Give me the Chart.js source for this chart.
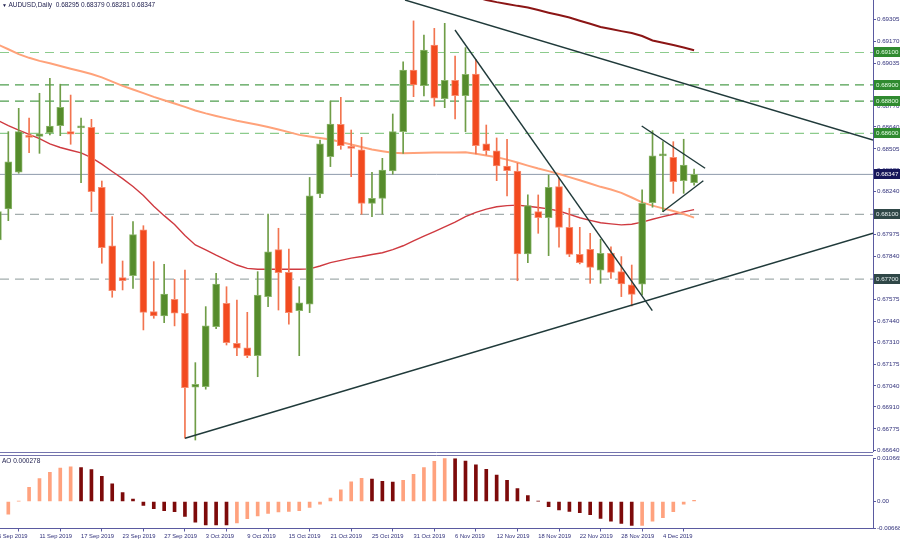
<!DOCTYPE html>
<html><head><meta charset="utf-8">
<script src="https://cdn.jsdelivr.net/npm/chart.js@4"></script>
<style>
html,body{margin:0;padding:0;background:#fff;width:900px;height:542px;overflow:hidden;}
#wrap{position:relative;width:900px;height:542px;}
#c1{position:absolute;left:0;top:0;}
#c2{position:absolute;left:0;top:452px;}
.lbl{position:absolute;font-family:"Liberation Sans",Arial,sans-serif;color:#1b1b4b;white-space:pre;line-height:1;}
</style></head>
<body><div id="wrap">
<canvas id="c1" width="900" height="452"></canvas>
<canvas id="c2" width="900" height="90"></canvas>
<div class="lbl" id="hdr" style="left:2px;top:2px;font-size:6.5px"></div>
<div class="lbl" id="aolbl" style="left:2px;top:458px;font-size:6.5px"></div>
</div>
<script>
// ---------- DATA ----------
const symbol = 'AUDUSD,Daily';
// bar 0 = 5 Sep 2019 ... bar 67 = 9 Dec 2019
const dateLabels = ['5 Sep 2019','11 Sep 2019','17 Sep 2019','23 Sep 2019','27 Sep 2019','3 Oct 2019','9 Oct 2019','15 Oct 2019','21 Oct 2019','25 Oct 2019','31 Oct 2019','6 Nov 2019','12 Nov 2019','18 Nov 2019','22 Nov 2019','28 Nov 2019','4 Dec 2019'];
const dateLabelStep = 4;

const opens  = [0.67942,0.68133,0.68360,0.68584,0.68582,0.68605,0.68648,0.68611,0.68634,0.68638,0.68267,0.67905,0.67709,0.67721,0.68005,0.67499,0.67472,0.67575,0.67489,0.67032,0.67036,0.67406,0.67551,0.67304,0.67275,0.67227,0.67592,0.67882,0.67742,0.67505,0.67545,0.68226,0.68456,0.68656,0.68518,0.68498,0.68168,0.68199,0.68368,0.68611,0.68992,0.68895,0.69146,0.68815,0.68928,0.68833,0.68967,0.68535,0.68492,0.68399,0.68368,0.67855,0.68117,0.68080,0.68271,0.68020,0.67853,0.67884,0.67756,0.67860,0.67746,0.67664,0.67668,0.68172,0.68461,0.68453,0.68308,0.68295];
const highs  = [0.68160,0.68611,0.68755,0.68694,0.68848,0.68941,0.68904,0.68837,0.68694,0.68687,0.68306,0.68086,0.67812,0.68055,0.68030,0.67808,0.67792,0.67698,0.67756,0.67184,0.67530,0.67736,0.67653,0.67571,0.67495,0.67746,0.68102,0.68014,0.67886,0.67653,0.68328,0.68559,0.68800,0.68823,0.68621,0.68576,0.68360,0.68446,0.68720,0.69043,0.69295,0.69208,0.69249,0.69280,0.69078,0.69130,0.69058,0.68652,0.68572,0.68564,0.68416,0.68220,0.68220,0.68343,0.68323,0.68138,0.68020,0.67983,0.67946,0.67900,0.67839,0.67787,0.68251,0.68617,0.68549,0.68549,0.68564,0.68379];
const lows   = [0.67910,0.68061,0.68354,0.68481,0.68477,0.68590,0.68586,0.68533,0.68296,0.68117,0.67798,0.67588,0.67633,0.67643,0.67386,0.67458,0.67431,0.67411,0.66717,0.66706,0.67020,0.67394,0.67293,0.67227,0.67215,0.67097,0.67530,0.67509,0.67421,0.67227,0.67493,0.68203,0.68395,0.68502,0.68333,0.68101,0.68086,0.68101,0.68348,0.68477,0.68827,0.68831,0.68769,0.68759,0.68689,0.68611,0.68473,0.68467,0.68308,0.68214,0.67690,0.67802,0.67983,0.67845,0.67897,0.67839,0.67794,0.67674,0.67674,0.67705,0.67592,0.67534,0.67602,0.68144,0.68117,0.68230,0.68230,0.68281];
const closes = [0.68117,0.68425,0.68611,0.68576,0.68597,0.68646,0.68761,0.68595,0.68638,0.68240,0.67894,0.67629,0.67690,0.67975,0.67495,0.67472,0.67608,0.67489,0.67029,0.67050,0.67412,0.67670,0.67307,0.67273,0.67227,0.67602,0.67868,0.67740,0.67493,0.67554,0.68214,0.68535,0.68658,0.68524,0.68508,0.68168,0.68199,0.68374,0.68611,0.68992,0.68899,0.69115,0.68817,0.68928,0.68833,0.68965,0.68524,0.68493,0.68399,0.68370,0.67855,0.68154,0.68080,0.68267,0.68020,0.67853,0.67802,0.67773,0.67860,0.67742,0.67670,0.67606,0.68168,0.68461,0.68473,0.68302,0.68405,0.68347];

const maOrange = [0.69149,0.69120,0.69090,0.69067,0.69048,0.69033,0.69017,0.69000,0.68984,0.68967,0.68946,0.68920,0.68894,0.68871,0.68849,0.68826,0.68805,0.68785,0.68764,0.68742,0.68724,0.68708,0.68693,0.68678,0.68666,0.68653,0.68640,0.68624,0.68608,0.68591,0.68581,0.68572,0.68562,0.68547,0.68532,0.68516,0.68501,0.68490,0.68480,0.68477,0.68479,0.68480,0.68482,0.68482,0.68482,0.68483,0.68474,0.68463,0.68453,0.68438,0.68420,0.68401,0.68383,0.68367,0.68349,0.68330,0.68311,0.68291,0.68270,0.68254,0.68233,0.68204,0.68174,0.68154,0.68137,0.68121,0.68102,0.68080];
const maRed = [0.68680,0.68648,0.68620,0.68594,0.68568,0.68535,0.68513,0.68496,0.68480,0.68451,0.68410,0.68365,0.68321,0.68272,0.68217,0.68150,0.68092,0.68037,0.67969,0.67911,0.67881,0.67848,0.67818,0.67787,0.67766,0.67761,0.67761,0.67761,0.67761,0.67761,0.67763,0.67781,0.67802,0.67816,0.67830,0.67840,0.67852,0.67863,0.67882,0.67906,0.67936,0.67965,0.67994,0.68023,0.68052,0.68086,0.68112,0.68132,0.68147,0.68154,0.68157,0.68150,0.68142,0.68134,0.68121,0.68100,0.68079,0.68063,0.68048,0.68041,0.68035,0.68039,0.68052,0.68070,0.68086,0.68101,0.68115,0.68129];
const maDarkFirstBar = 45;
const maDark = [0.69461,0.69443,0.69424,0.69411,0.69400,0.69388,0.69378,0.69362,0.69346,0.69331,0.69316,0.69296,0.69277,0.69258,0.69245,0.69232,0.69220,0.69202,0.69174,0.69160,0.69146,0.69131,0.69114];

// Awesome Oscillator, bar 0 (5 Sep) not shown
const aoValues = [null,-0.00317,0.00005,0.00352,0.00563,0.00722,0.00822,0.00855,0.00840,0.00790,0.00621,0.00437,0.00219,0.00060,-0.00100,-0.00176,-0.00226,-0.00252,-0.00369,-0.00510,-0.00578,-0.00580,-0.00582,-0.00530,-0.00427,-0.00360,-0.00293,-0.00260,-0.00243,-0.00226,-0.00150,-0.00067,0.00084,0.00285,0.00487,0.00570,0.00554,0.00496,0.00479,0.00520,0.00670,0.00840,0.00990,0.010665,0.01060,0.00999,0.00906,0.00797,0.00654,0.00520,0.00320,0.00143,0.00010,-0.00126,-0.00209,-0.00243,-0.00277,-0.00327,-0.00418,-0.00486,-0.00543,-0.00594,-0.00590,-0.00486,-0.00403,-0.00252,-0.00066,0.000278];
const aoMax = 0.010665, aoMin = -0.00668;
const aoTickValues = [aoMin, 0, aoMax];
const aoTickLabels = ['-0.00668','0.00','0.010665'];

// Price axis
const priceMin = 0.66632, priceMax = 0.694242;
const barMin = 0.2, barMax = 84.22;
const priceTicks = [0.69305,0.69170,0.69035,0.68900,0.68770,0.68640,0.68505,0.68370,0.68240,0.68105,0.67975,0.67840,0.67705,0.67575,0.67440,0.67310,0.67175,0.67040,0.66910,0.66775,0.66640];

// Horizontal levels
const levels = [0.69100,0.68900,0.68800,0.68600,0.68100,0.67700];
const levelKinds = ['g1','g2','g2','g1','gr','gr'];

// Trend lines: [bar, price] pairs
const trendA = [[39.18,0.694242],[84.22,0.685594]];
const trendB = [[43.99,0.692389],[62.98,0.675050]];
const trendC = [[18.01,0.667168],[84.22,0.679831]];
const trendD = [[61.96,0.686459],[68.06,0.683846]];
const trendE = [[63.98,0.681165],[67.89,0.683080]];

// ---------- STYLES ----------
const FONT = '"Liberation Sans", Arial, sans-serif';
const AXIS = '#5a5aa0';
const TXT = '#30307a';
const UP = '#568c2c', UPB = '#8ab56a', UPW = '#6f9d47';
const DN = '#f24a1f', DNB = '#f78d70', DNW = '#f2744f';
const levelStyle = {
  g1: {line:'#8ccb8c', box:'#2f8a2f', txt:'#e8ffe8'},
  g2: {line:'#4f9e4f', box:'#2f8a2f', txt:'#e8ffe8'},
  gr: {line:'#a3adad', box:'#2f4747', txt:'#e6eeee'}
};
Chart.defaults.font.family = FONT;
Chart.defaults.animation = false;

const N = opens.length;
const lastI = N - 1;
document.getElementById('hdr').innerHTML =
  '<span style="font-size:5px">&#9660;</span> ' + symbol + '&nbsp; ' +
  [opens[lastI],highs[lastI],lows[lastI],closes[lastI]].map(v=>v.toFixed(5)).join(' ');
const lastAO = aoValues[aoValues.length-1];
document.getElementById('aolbl').textContent = 'AO ' + lastAO.toFixed(6);

const isUp = i => closes[i] >= opens[i];
const bodyData = opens.map((o,i)=>({x:i, y:[Math.min(o,closes[i]), Math.max(o,closes[i])]}));
const wickData = highs.map((h,i)=>({x:i, y:[lows[i], h]}));
const line = arr => arr.map((v,i)=>({x:i,y:v}));
const seg = pts => pts.map(p=>({x:p[0],y:p[1]}));

const datasets = [];
// trend lines (top)
[trendA,trendB,trendC,trendD,trendE].forEach(t=>datasets.push({
  type:'line', data:seg(t), borderColor:'#203a3a', borderWidth:1.4, pointRadius:0, order:0
}));
datasets.push({type:'bar', data:bodyData, grouped:false, barThickness:7, minBarLength:2,
  backgroundColor: bodyData.map((d,i)=>isUp(i)?UP:DN),
  borderColor: bodyData.map((d,i)=>isUp(i)?UPB:DNB),
  borderWidth:1, borderSkipped:false, order:1});
datasets.push({type:'bar', data:wickData, grouped:false, barThickness:1,
  backgroundColor: wickData.map((d,i)=>isUp(i)?UPW:DNW), borderWidth:0, order:2});
datasets.push({type:'line', data:line(maOrange), borderColor:'#ffa27a', borderWidth:2, pointRadius:0, order:3});
datasets.push({type:'line', data:line(maRed), borderColor:'#cf3a40', borderWidth:1.4, pointRadius:0, order:3});
datasets.push({type:'line', data:maDark.map((v,j)=>({x:maDarkFirstBar+j,y:v})), borderColor:'#8b1515', borderWidth:2, pointRadius:0, order:3});
// bid line
datasets.push({type:'line', data:[{x:barMin,y:closes[lastI]},{x:barMax,y:closes[lastI]}], borderColor:'#8e9aab', borderWidth:1, pointRadius:0, order:4});
levels.forEach((lv,k)=>datasets.push({type:'line', data:[{x:barMin,y:lv},{x:barMax,y:lv}],
  borderColor:levelStyle[levelKinds[k]].line, borderWidth:1.2, borderDash:[9,6], pointRadius:0, order:5}));

function boxLabel(ctx, y, text, bg, fg){
  ctx.save();
  ctx.fillStyle = bg;
  ctx.fillRect(874, Math.round(y)-5, 26, 10);
  ctx.fillStyle = fg;
  ctx.font = '6.2px ' + FONT;
  ctx.textBaseline = 'middle';
  ctx.textAlign = 'left';
  ctx.fillText(text, 876, Math.round(y)+0.5);
  ctx.restore();
}
const labelPlugin = {
  id:'lvlLabels',
  afterDraw(chart){
    const ctx = chart.ctx, ys = chart.scales.y;
    levels.forEach((lv,k)=>{
      const st = levelStyle[levelKinds[k]];
      boxLabel(ctx, ys.getPixelForValue(lv), lv.toFixed(5), st.box, st.txt);
    });
    boxLabel(ctx, ys.getPixelForValue(closes[lastI]), closes[lastI].toFixed(5), '#16165a', '#ffffff');
  }
};

new Chart(document.getElementById('c1'), {
  type:'bar',
  data:{datasets},
  options:{
    responsive:false, devicePixelRatio:1,
    layout:{padding:0},
    plugins:{legend:{display:false}, tooltip:{enabled:false}},
    scales:{
      x:{type:'linear', min:barMin, max:barMax, offset:false, display:false},
      y:{type:'linear', position:'right', min:priceMin, max:priceMax,
        afterBuildTicks: s => { s.ticks = priceTicks.map(v=>({value:v})); },
        afterFit: s => { s.width = 27; s.paddingTop = 0; s.paddingBottom = 0; },
        ticks:{callback:v=>Number(v).toFixed(5), font:{size:6.2}, color:TXT, padding:1, autoSkip:false},
        grid:{drawOnChartArea:false, drawTicks:true, tickLength:3, color:AXIS},
        border:{display:true, color:AXIS, width:1}
      }
    }
  },
  plugins:[labelPlugin]
});

// ---------- AO panel ----------
const aoData = aoValues.map((v,i)=>({x:i,y:v})).filter(d=>d.y!==null);
const aoColors = aoValues.map((v,i)=>{
  if (v===null) return null;
  const p = aoValues[i-1];
  return (p===null || p===undefined || v>p) ? '#ffa27e' : '#7d0a0a';
}).filter(c=>c!==null);
const dateTickBars = dateLabels.map((d,k)=>k*dateLabelStep);

const borderPlugin = {
  id:'panelBorder',
  beforeDraw(chart){
    const ctx = chart.ctx;
    ctx.save();
    ctx.strokeStyle = '#7474ae';
    ctx.lineWidth = 1;
    ctx.beginPath();
    ctx.moveTo(0,0.5); ctx.lineTo(873,0.5);
    ctx.moveTo(0,3.5); ctx.lineTo(873,3.5);
    ctx.stroke();
    ctx.restore();
  }
};

new Chart(document.getElementById('c2'), {
  type:'bar',
  data:{datasets:[{data:aoData, backgroundColor:aoColors, barThickness:3, grouped:false, borderWidth:0}]},
  options:{
    responsive:false, devicePixelRatio:1,
    layout:{padding:{top:6.3,left:0,right:0,bottom:0}},
    plugins:{legend:{display:false}, tooltip:{enabled:false}},
    scales:{
      x:{type:'linear', min:barMin, max:barMax, offset:false, position:'bottom',
        afterBuildTicks: s => { s.ticks = dateTickBars.map(v=>({value:v})); },
        afterFit: s => { s.height = 13.5; s.paddingLeft = 0; s.paddingRight = 0; },
        ticks:{callback:(v)=>{const k=dateTickBars.indexOf(Math.round(v)); return k>=0?dateLabels[k]:'';},
          align:'start', maxRotation:0, minRotation:0, autoSkip:false, font:{size:5.8}, color:TXT, padding:1},
        grid:{drawOnChartArea:false, drawTicks:true, tickLength:3, color:AXIS},
        border:{display:true, color:AXIS, width:1}
      },
      y:{type:'linear', position:'right', min:aoMin, max:aoMax,
        afterBuildTicks: s => { s.ticks = aoTickValues.map(v=>({value:v})); },
        afterFit: s => { s.width = 27; s.paddingTop = 0; s.paddingBottom = 0; },
        ticks:{callback:(v)=>{const k=aoTickValues.indexOf(v); return k>=0?aoTickLabels[k]:'';}, font:{size:6.2}, color:TXT, padding:1, autoSkip:false},
        grid:{drawOnChartArea:false, drawTicks:true, tickLength:3, color:AXIS},
        border:{display:true, color:AXIS, width:1}
      }
    }
  },
  plugins:[borderPlugin]
});
</script>
</body></html>
